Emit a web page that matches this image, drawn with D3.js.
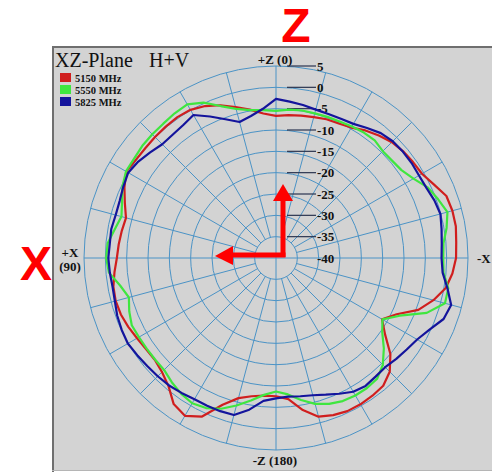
<!DOCTYPE html>
<html><head><meta charset="utf-8">
<script src="https://cdn.jsdelivr.net/npm/d3@7"></script>
<style>
html,body{margin:0;padding:0;background:#fff;}
svg{display:block;}
</style></head>
<body>
<svg id="chart" width="492" height="472"></svg>
<script>
// ---- data ----
const angles = [0,5,10,15,20,25,30,35,40,45,50,55,60,65,70,75,80,85,90,95,100,105,110,115,120,125,130,135,140,145,150,155,160,165,170,175,180,185,190,195,200,205,210,215,220,225,230,235,240,245,250,255,260,265,270,275,280,285,290,295,300,305,310,315,320,325,330,335,340,345,350,355];
const red5150 = [-6.7,-6.0,-4.7,-3.4,-1.9,-0.7,0.1,0.3,0.2,0.1,0.0,0.1,0.5,-0.8,-2.3,-3.6,-3.3,-3.0,-2.7,-2.0,-1.3,-1.1,-1.3,-1.8,-2.4,-2.8,-2.9,-2.2,-0.8,1.8,2.7,1.0,-3.4,-6.0,-7.1,-7.6,-7.6,-6.8,-3.8,-1.5,-0.8,-0.4,-0.4,-0.6,-0.9,-2.3,-5.0,-8.8,-11.3,-8.8,-4.5,-1.8,0.4,1.5,2.2,2.4,2.8,2.8,2.5,0.8,-0.5,-0.8,-1.1,-1.6,-2.5,-3.5,-4.7,-5.2,-5.4,-5.8,-6.1,-6.4];
const green5550 = [-5.5,-5.2,-4.8,-3.8,-2.1,0.2,1.6,1.4,1.1,1.0,0.9,0.6,0.6,-0.3,-1.6,-2.5,-1.6,-0.4,-0.2,-0.7,-2.9,-4.3,-3.4,-2.7,-2.9,-3.0,-3.0,-2.9,-2.0,-1.2,-0.7,-1.2,-2.4,-4.2,-6.1,-7.8,-8.7,-7.9,-6.2,-4.6,-3.6,-3.0,-2.8,-2.8,-3.1,-4.6,-7.0,-9.6,-11.2,-8.0,-2.4,1.0,1.0,-0.6,-0.8,-0.6,0.6,1.6,0.4,-0.8,-2.8,-4.1,-4.5,-4.6,-4.0,-4.1,-4.4,-4.7,-4.8,-4.9,-4.9,-5.1];
const blue5825 = [-2.7,-4.9,-6.2,-7.0,-5.4,-3.4,-1.3,-2.0,-2.3,-2.3,-1.5,-0.6,0.0,-0.5,-1.0,-1.1,-0.8,-0.9,-0.7,-0.9,-1.1,-0.9,-0.4,-0.1,0.1,-0.3,-0.6,-0.8,-1.0,-1.4,-1.8,-1.8,-1.8,-1.9,-3.9,-6.4,-7.1,-7.4,-7.1,-6.7,-5.9,-4.9,-3.8,-3.4,-3.7,-3.8,-3.2,-2.6,-1.8,-0.3,1.8,2.5,0.8,-0.8,-1.2,-1.0,-0.6,-0.1,-0.5,-1.1,-1.3,-1.2,-1.2,-1.3,-1.8,-2.8,-3.7,-4.0,-4.1,-4.0,-3.6,-3.2];
const seriesNames = ["5150 MHz","5550 MHz","5825 MHz"];
const seriesColors = ["#d01e1e","#3fe63f","#14149c"];
const ringLevels = [5,0,-5,-10,-15,-20,-25,-30,-35,-40];
const spokeAngles = [0,15,30,45,60,75,90,105,120,135,150,165,180,195,210,225,240,255,270,285,300,315,330,345];
const axisLabels = {top:"+Z (0)", bottom:"-Z (180)", left1:"+X", left2:"(90)", right:"-X"};
const titleText = "XZ-Plane";
const subTitle = "H+V";

// ---- layout ----
const svg = d3.select("#chart");
const cx = 276, cy = 258, R = 192;
const rScale = d3.scaleLinear().domain([-40, 5]).range([0, R]);
const gridColor = "#4b93c6";
const serif = "'Liberation Serif','Times New Roman',serif";

// panel
svg.append("rect").attr("x",52).attr("y",46).attr("width",440).attr("height",424).attr("fill","#d3d3d3");
svg.append("line").attr("x1",53).attr("x2",53).attr("y1",46).attr("y2",472).attr("stroke","#6f6f6f").attr("stroke-width",2);
svg.append("line").attr("x1",52).attr("x2",492).attr("y1",47).attr("y2",47).attr("stroke","#6f6f6f").attr("stroke-width",2);
svg.append("line").attr("x1",52).attr("x2",492).attr("y1",470.5).attr("y2",470.5).attr("stroke","#b5b5b5").attr("stroke-width",1);

const g = svg.append("g").attr("transform",`translate(${cx},${cy})`);

// rings
g.selectAll("circle.ring").data(ringLevels.filter(d=>d>-40)).enter().append("circle")
  .attr("r", d=>rScale(d)).attr("fill","none").attr("stroke",gridColor).attr("stroke-width",1);

// spokes
g.selectAll("line.spoke").data(spokeAngles).enter().append("line")
  .attr("x1", d => (d%90===0 ? 0 : -rScale(-35)*Math.sin(d*Math.PI/180)))
  .attr("y1", d => (d%90===0 ? 0 : -rScale(-35)*Math.cos(d*Math.PI/180)))
  .attr("x2", d => -R*Math.sin(d*Math.PI/180))
  .attr("y2", d => -R*Math.cos(d*Math.PI/180))
  .attr("stroke",gridColor).attr("stroke-width",1);

// ring label tick lines + labels
g.selectAll("line.tk").data(ringLevels.filter(d=>d>-40)).enter().append("line")
  .attr("x1",11).attr("x2",40).attr("y1",d=>-rScale(d)).attr("y2",d=>-rScale(d))
  .attr("stroke","#2b3550").attr("stroke-width",1.2);
g.selectAll("text.rl").data(ringLevels).enter().append("text")
  .attr("x",41).attr("y",d=>-rScale(d)+4.5)
  .attr("font-family",serif).attr("font-weight","bold").attr("font-size",13).attr("fill","#111")
  .text(d=>String(d));

// curves
const line = d3.lineRadial()
  .angle(d => -d[0]*Math.PI/180)
  .radius(d => rScale(d[1]))
  .curve(d3.curveLinearClosed);
[red5150, green5550, blue5825].forEach((vals,i)=>{
  g.append("path").datum(angles.map((a,j)=>[a, vals[j]]))
    .attr("d", line).attr("fill","none").attr("stroke",seriesColors[i])
    .attr("stroke-width",2.2).attr("stroke-linejoin","round");
});

// axis labels
const lab = (x,y,t,anchor) => svg.append("text").attr("x",x).attr("y",y).attr("text-anchor",anchor||"middle")
  .attr("font-family",serif).attr("font-weight","bold").attr("font-size",13).attr("fill","#111").text(t);
lab(275,64,axisLabels.top);
lab(275,465,axisLabels.bottom);
lab(70,257,axisLabels.left1);
lab(70,271,axisLabels.left2);
lab(477,263,axisLabels.right,"start");

// title + legend
svg.append("text").attr("x",55).attr("y",67).attr("font-family",serif).attr("font-size",20).attr("fill","#111").text(titleText);
svg.append("text").attr("x",149).attr("y",67).attr("font-family",serif).attr("font-size",20).attr("fill","#111").text(subTitle);
seriesNames.forEach((n,i)=>{
  svg.append("rect").attr("x",60).attr("y",73+i*12).attr("width",11).attr("height",9).attr("fill",seriesColors[i]);
  svg.append("text").attr("x",75).attr("y",81.5+i*12).attr("font-family",serif).attr("font-weight","bold")
    .attr("font-size",10.5).attr("fill","#111").text(n);
});

// red annotation arrows and letters
const arrowRed = "#ff0000";
svg.append("line").attr("x1",283).attr("x2",283).attr("y1",257).attr("y2",198).attr("stroke",arrowRed).attr("stroke-width",5);
svg.append("path").attr("d","M283,184 L273,201 L293,201 Z").attr("fill",arrowRed);
svg.append("line").attr("x1",285.5).attr("x2",230).attr("y1",255).attr("y2",255).attr("stroke",arrowRed).attr("stroke-width",5);
svg.append("path").attr("d","M215,256 L233,246 L233,265 Z").attr("fill",arrowRed);
svg.append("text").attr("x",296).attr("y",42).attr("text-anchor","middle").attr("font-family","'Liberation Sans',Arial,sans-serif")
  .attr("font-weight","bold").attr("font-size",48).attr("fill",arrowRed).text("Z");
svg.append("text").attr("x",36).attr("y",280).attr("text-anchor","middle").attr("font-family","'Liberation Sans',Arial,sans-serif")
  .attr("font-weight","bold").attr("font-size",48).attr("fill",arrowRed).text("X");
</script>
</body></html>
